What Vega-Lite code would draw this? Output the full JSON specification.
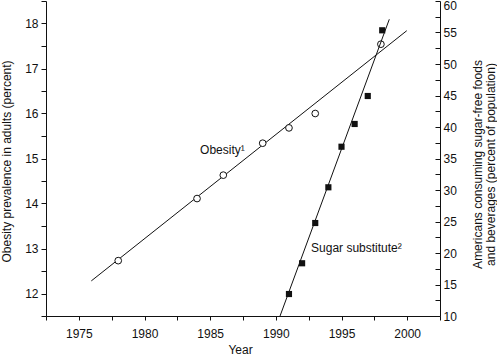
{
  "$schema": "https://vega.github.io/schema/vega-lite/v6.json",
  "width": 394,
  "height": 315,
  "autosize": {"type": "none"},
  "padding": {"left": 46, "top": 1, "right": 57, "bottom": 40},
  "background": "white",
  "config": {
    "view": {"stroke": null},
    "font": "Liberation Sans",
    "axis": {
      "grid": false,
      "domainColor": "#111",
      "tickColor": "#111",
      "labelColor": "#111",
      "titleColor": "#111",
      "labelFont": "Liberation Sans",
      "titleFont": "Liberation Sans",
      "labelFontSize": 12,
      "titleFontSize": 12,
      "titleFontWeight": "normal",
      "labelOverlap": false,
      "domainWidth": 1,
      "tickWidth": 1
    }
  },
  "datasets": {
    "obesity_points": [
      {"year": 1978, "value": 12.73},
      {"year": 1984, "value": 14.11},
      {"year": 1986, "value": 14.63},
      {"year": 1989, "value": 15.34},
      {"year": 1991, "value": 15.68},
      {"year": 1993, "value": 16.0},
      {"year": 1998, "value": 17.54}
    ],
    "obesity_fit": [
      {"year": 1975.95, "value": 12.28},
      {"year": 1999.97, "value": 17.84}
    ],
    "sugar_points": [
      {"year": 1991, "value": 13.49},
      {"year": 1992, "value": 18.37},
      {"year": 1993, "value": 24.76},
      {"year": 1994, "value": 30.43},
      {"year": 1995, "value": 36.87},
      {"year": 1996, "value": 40.48},
      {"year": 1997, "value": 44.92},
      {"year": 1998.1, "value": 55.35}
    ],
    "sugar_fit": [
      {"year": 1990.32, "value": 10},
      {"year": 1998.64, "value": 57.1}
    ],
    "obesity_label": [
      {"year": 1984.23, "value": 15.09, "text": "Obesity¹"}
    ],
    "sugar_label": [
      {"year": 1992.68, "value": 20.11, "text": "Sugar substitute²"}
    ]
  },
  "encoding": {
    "x": {
      "field": "year",
      "type": "quantitative",
      "scale": {"domain": [1972.5, 2002.5], "nice": false, "zero": false},
      "axis": {
        "title": "Year",
        "values": [1972.5, 1975, 1977.5, 1980, 1982.5, 1985, 1987.5, 1990, 1992.5, 1995, 1997.5, 2000, 2002.5],
        "labelExpr": "datum.value % 5 === 0 ? format(datum.value, 'd') : ''",
        "tickSize": 4,
        "labelPadding": 8,
        "titlePadding": 5,
        "titleX": 194
      }
    }
  },
  "layer": [
    {
      "encoding": {
        "y": {
          "field": "value",
          "type": "quantitative",
          "scale": {"domain": [11.5, 18.5], "nice": false, "zero": false},
          "axis": {
            "orient": "left",
            "title": "Obesity prevalence in adults (percent)",
            "values": [11.5, 12, 12.5, 13, 13.5, 14, 14.5, 15, 15.5, 16, 16.5, 17, 17.5, 18, 18.5],
            "labelExpr": "datum.value % 1 === 0 ? format(datum.value, 'd') : ''",
            "tickSize": 5,
            "labelPadding": 3,
            "titleAngle": 270,
            "titleBaseline": "middle",
            "titleAlign": "center",
            "titleX": -40,
            "titleY": 160
          }
        }
      },
      "layer": [
        {
          "data": {"name": "obesity_fit"},
          "mark": {"type": "line", "color": "#111", "strokeWidth": 1}
        },
        {
          "data": {"name": "obesity_points"},
          "mark": {"type": "point", "shape": "circle", "filled": false, "fill": "white", "fillOpacity": 1, "stroke": "#111", "strokeWidth": 1, "size": 45, "opacity": 1}
        },
        {
          "data": {"name": "obesity_label"},
          "mark": {"type": "text", "align": "left", "baseline": "alphabetic", "fontSize": 12, "color": "#111"},
          "encoding": {"text": {"field": "text"}}
        }
      ]
    },
    {
      "encoding": {
        "y": {
          "field": "value",
          "type": "quantitative",
          "scale": {"domain": [10, 60], "nice": false, "zero": false},
          "axis": {
            "orient": "right",
            "title": ["Americans consuming sugar-free foods", "and beverages (percent of population)"],
            "values": [10, 12.5, 15, 17.5, 20, 22.5, 25, 27.5, 30, 32.5, 35, 37.5, 40, 42.5, 45, 47.5, 50, 52.5, 55, 57.5, 60],
            "labelExpr": "datum.value % 5 === 0 ? format(datum.value, 'd') : ''",
            "labelOffset": {"condition": {"test": "datum.value === 60", "value": 4}, "value": 0},
            "tickSize": -5,
            "labelPadding": 8,
            "titleAngle": 270,
            "titleBaseline": "middle",
            "titleAlign": "center",
            "titleLineHeight": 13,
            "titleX": 37.5,
            "titleY": 163
          }
        }
      },
      "layer": [
        {
          "data": {"name": "sugar_fit"},
          "mark": {"type": "line", "color": "#111", "strokeWidth": 1}
        },
        {
          "data": {"name": "sugar_points"},
          "mark": {"type": "square", "color": "#111", "filled": true, "size": 38, "opacity": 1}
        },
        {
          "data": {"name": "sugar_label"},
          "mark": {"type": "text", "align": "left", "baseline": "alphabetic", "fontSize": 12, "color": "#111"},
          "encoding": {"text": {"field": "text"}}
        }
      ]
    }
  ],
  "resolve": {"scale": {"y": "independent"}}
}
